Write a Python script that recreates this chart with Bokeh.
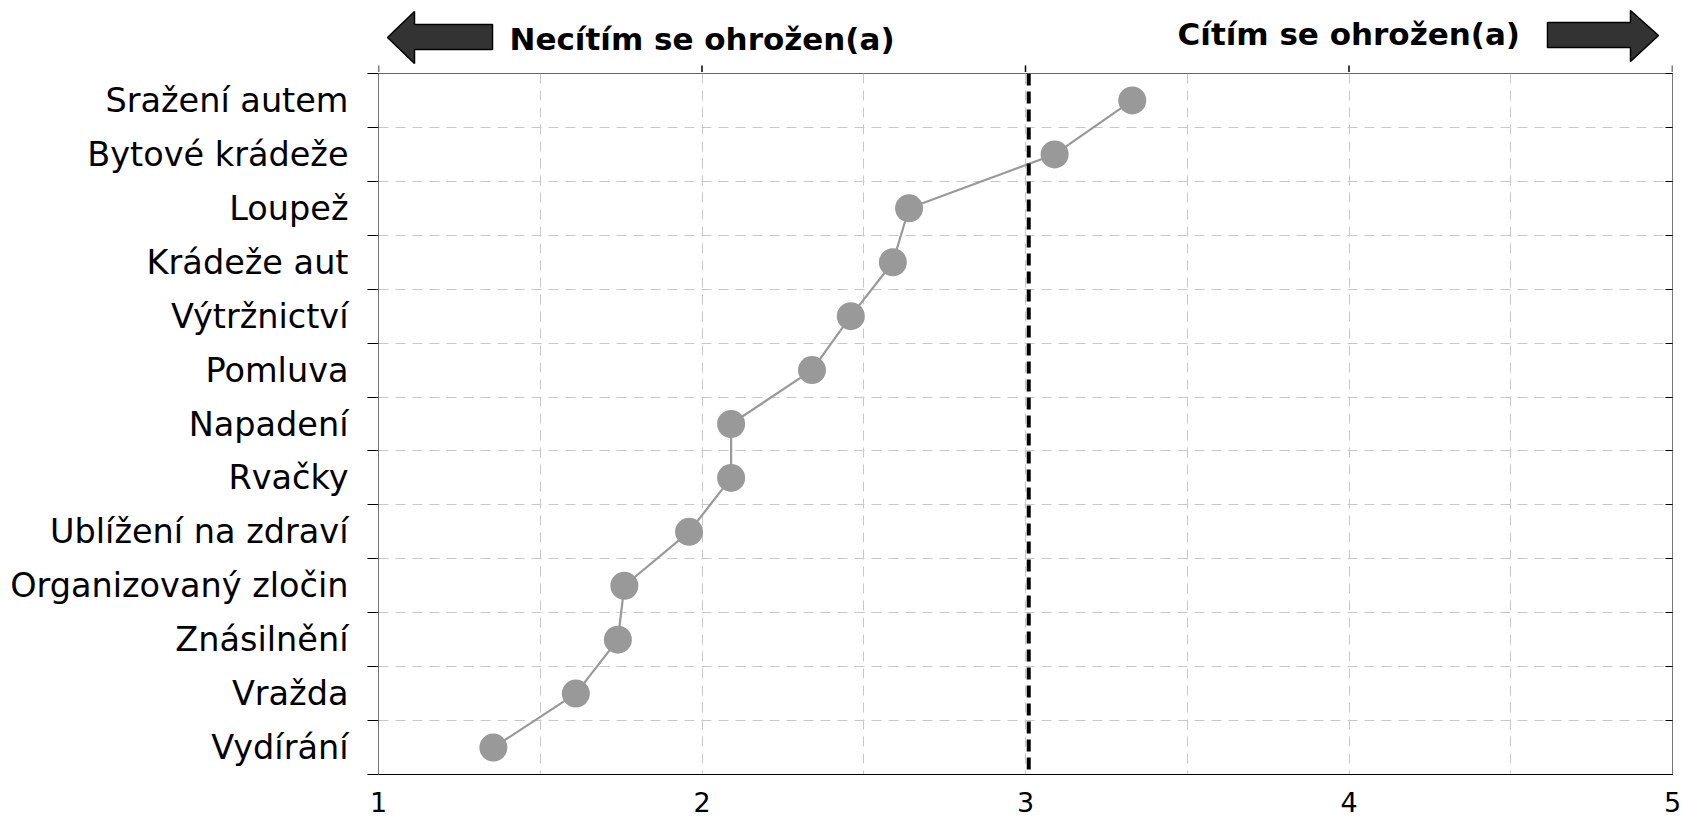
from bokeh.plotting import figure
from bokeh.models import Range1d, FixedTicker, LinearAxis, ColumnDataSource, Span
from bokeh.layouts import column
from bokeh.embed import file_html
from bokeh.resources import INLINE
from bokeh.core.properties import value

# ---- data ----
categories = ["Sražení autem", "Bytové krádeže", "Loupež", "Krádeže aut",
              "Výtržnictví", "Pomluva", "Napadení", "Rvačky",
              "Ublížení na zdraví", "Organizovaný zločin", "Znásilnění",
              "Vražda", "Vydírání"]
scores = [3.33, 3.09, 2.64, 2.59, 2.46, 2.34, 2.09, 2.09, 1.96, 1.76, 1.74, 1.61, 1.355]
x_ticks = [1, 2, 3, 4, 5]
x_minor = [1.5, 2.5, 3.5, 4.5]
neutral = 3.01
left_caption = "Necítím se ohrožen(a)"
right_caption = "Cítím se ohrožen(a)"

# ---- layout constants ----
W = 1683
HEAD_H = 72
MAIN_H = 753
FL, FR, FT, FB = 378, 11, 1, 51
FONT = "DejaVu Sans"
GRID = "#c8c8c8"
GRID_DASH = "10 7"
X0, X1 = 1, 5

n = len(categories)
ypos = list(range(n))
bounds = [i - 0.5 for i in range(n + 1)]
frame_w = W - FL - FR


def px2x(px):
    return X0 + (px - FL) / frame_w * (X1 - X0)


xr = Range1d(X0, X1)

# ---- main chart ----
src = ColumnDataSource(dict(x=scores, y=ypos))
p = figure(width=W, height=MAIN_H, x_range=xr,
           y_range=Range1d(n - 0.5, -0.5), output_backend="svg",
           toolbar_location=None, min_border_left=FL, min_border_right=FR,
           min_border_top=FT, min_border_bottom=FB)
p.background_fill_color = "white"
p.border_fill_color = "white"
p.outline_line_color = "#666666"

p.line("x", "y", source=src, line_color="#999999", line_width=2.2)
p.scatter("x", "y", source=src, size=28, fill_color="#999999", line_color=None)
p.add_layout(Span(location=neutral, dimension="height", line_color="black",
                  line_width=4, line_dash="12 6"))

xa = p.xaxis[0]
xa.ticker = FixedTicker(ticks=x_ticks, minor_ticks=x_minor)
xa.major_tick_out = 0
xa.major_tick_in = 0
xa.minor_tick_out = 0
xa.minor_tick_in = 0
xa.axis_line_color = "black"
xa.major_label_text_font = FONT
xa.major_label_text_font_size = "27px"
xa.major_label_text_color = "black"
xa.major_label_standoff = 17

p.xgrid.grid_line_color = GRID
p.xgrid.grid_line_dash = GRID_DASH
p.xgrid.minor_grid_line_color = GRID
p.xgrid.minor_grid_line_dash = GRID_DASH

ya = p.yaxis[0]
ya.ticker = FixedTicker(ticks=ypos, minor_ticks=bounds)
ya.major_label_overrides = {i: c for i, c in enumerate(categories)}
ya.major_tick_out = 0
ya.major_tick_in = 0
ya.minor_tick_out = 11
ya.minor_tick_in = 0
ya.minor_tick_line_color = "black"
ya.axis_line_color = "#777777"
ya.major_label_text_font = FONT
ya.major_label_text_font_size = "33.5px"
ya.major_label_text_color = "black"
ya.major_label_standoff = 19

p.ygrid.grid_line_color = None
p.ygrid.minor_grid_line_color = GRID
p.ygrid.minor_grid_line_dash = GRID_DASH

ra = LinearAxis(ticker=FixedTicker(ticks=[], minor_ticks=bounds),
                major_label_standoff=0, major_tick_out=0, major_tick_in=0,
                minor_tick_in=7, minor_tick_out=0, minor_tick_line_color="black",
                axis_line_color="#777777")
p.add_layout(ra, "right")

# ---- header with arrows and captions (x shares the chart's scale) ----
h = figure(width=W, height=HEAD_H, x_range=xr, y_range=Range1d(HEAD_H, 0),
           output_backend="svg", toolbar_location=None,
           min_border_left=FL, min_border_right=FR, min_border_top=0, min_border_bottom=0,
           x_axis_type=None, y_axis_type=None)
h.grid.visible = False
h.outline_line_color = None
h.background_fill_color = "white"
h.border_fill_color = "white"

h.segment(x0=x_ticks, y0=[65] * len(x_ticks), x1=x_ticks, y1=[HEAD_H + 1] * len(x_ticks),
          line_color="black", line_width=1.5)

left_arrow_px = [387, 414, 414, 492, 492, 414, 414]
left_arrow_y = [37, 11, 24, 24, 49, 49, 63]
right_arrow_px = [1658, 1630, 1630, 1547, 1547, 1630, 1630]
right_arrow_y = [35, 10, 22, 22, 47, 47, 61]
h.patches(xs=[[px2x(v) for v in left_arrow_px], [px2x(v) for v in right_arrow_px]],
          ys=[left_arrow_y, right_arrow_y],
          fill_color="#333333", line_color="black", line_width=1.5)

h.text(x=[px2x(509)], y=[38], text=[left_caption], text_font=value(FONT),
       text_font_style="bold", text_font_size="31px", text_color="black",
       text_baseline="alphabetic", text_align="left")
h.text(x=[px2x(1177)], y=[33], text=[right_caption], text_font=value(FONT),
       text_font_style="bold", text_font_size="31px", text_color="black",
       text_baseline="alphabetic", text_align="left")

layout = column(h, p, spacing=0)
open("out.html", "w").write(file_html(layout, INLINE))
